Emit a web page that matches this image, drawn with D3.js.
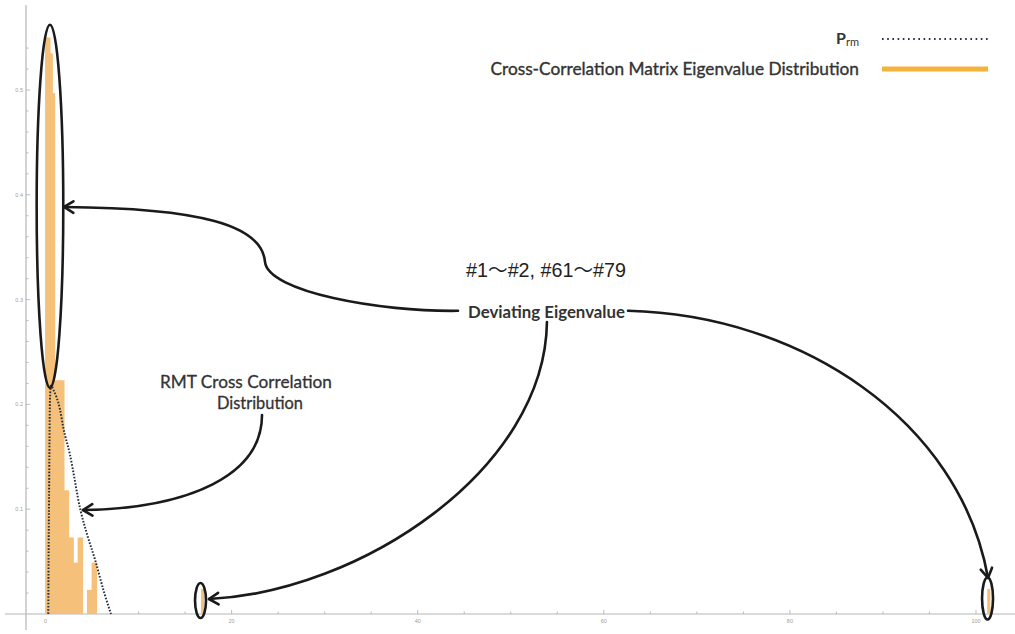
<!DOCTYPE html>
<html>
<head>
<meta charset="utf-8">
<script src="https://cdn.jsdelivr.net/npm/d3@7/dist/d3.min.js"></script>
<style>
  html, body { margin: 0; padding: 0; background: #fff; }
  svg { display: block; }
</style>
</head>
<body>
<svg id="chart" width="1015" height="634"></svg>
<script>
// Histogram of cross-correlation matrix eigenvalues (bin width 0.25)
const binStart = [0, 0.25, 0.5, 0.75, 1.0, 1.25, 1.5, 1.75, 2.0, 2.25, 2.5, 2.75,
                  3.0, 3.25, 3.5, 3.75, 4.5, 4.75, 5.0, 5.25, 16.75, 101.25];
const binHeight = [0.55, 0.55, 0.535, 0.497, 0.223, 0.223, 0.223, 0.223, 0.118, 0.118,
                   0.073, 0.073, 0.049, 0.049, 0.073, 0.073, 0.023, 0.023, 0.049, 0.049,
                   0.024, 0.024];
const binWidth = 0.25;

// RMT (Marchenko-Pastur type) eigenvalue density, P_rm
const rmtLambda  = [0.30, 0.33, 0.38, 0.43, 0.48, 0.59, 0.84, 1.56, 1.91, 2.63, 3.76, 4.5, 5.32, 6.32, 7.04];
const rmtDensity = [0, 0.052, 0.109, 0.166, 0.204, 0.218, 0.214, 0.195, 0.178, 0.152, 0.099, 0.075, 0.052, 0.02, 0];

// Axis ticks
const xTicks = [0, 20, 40, 60, 80, 100];
const yTicks = [0.1, 0.2, 0.3, 0.4, 0.5];

// Legend entries
const legendLabels = ["Cross-Correlation Matrix Eigenvalue Distribution"];

const svg = d3.select("#chart");
const W = 1015, H = 634;

const x = d3.scaleLinear().domain([0, 100]).range([45.5, 976]);
const y = d3.scaleLinear().domain([0, 0.5]).range([614, 90]);

const axisColor = "#b5b5b5";
const textColor = "#333";
const barColor = "#f5c07a";
const legendOrange = "#f4b43c";
const dotColor = "#263043";

// ---- axes ----
const axes = svg.append("g");
axes.append("line").attr("x1", 5).attr("x2", W).attr("y1", y(0)).attr("y2", y(0))
  .attr("stroke", axisColor).attr("stroke-width", 1.2);
axes.append("line").attr("x1", 26).attr("x2", 26).attr("y1", 5).attr("y2", 630)
  .attr("stroke", axisColor).attr("stroke-width", 1.2);

// x ticks: majors every 20, minors every 5
d3.range(5, 101, 5).forEach(v => {
  const major = v % 20 === 0;
  axes.append("line").attr("x1", x(v)).attr("x2", x(v))
    .attr("y1", y(0)).attr("y2", y(0) - (major ? 4 : 2.5))
    .attr("stroke", axisColor).attr("stroke-width", 0.9);
});
axes.selectAll("text.xt").data(xTicks).join("text")
  .attr("x", d => x(d)).attr("y", y(0) + 9)
  .attr("text-anchor", "middle").attr("font-size", 5.5)
  .attr("font-family", "Liberation Sans, sans-serif").attr("fill", "#a0a0a0")
  .text(d => d);

// y ticks: majors every 0.1, minors every 0.02
d3.range(1, 28).forEach(i => {
  const v = i * 0.02;
  const major = i % 5 === 0;
  axes.append("line").attr("x1", 26).attr("x2", 26 + (major ? 4 : 2.5))
    .attr("y1", y(v)).attr("y2", y(v))
    .attr("stroke", axisColor).attr("stroke-width", 0.9);
});
axes.selectAll("text.yt").data(yTicks).join("text")
  .attr("x", 23).attr("y", d => y(d) + 2)
  .attr("text-anchor", "end").attr("font-size", 5.5)
  .attr("font-family", "Liberation Sans, sans-serif").attr("fill", "#a0a0a0")
  .text(d => d3.format(".1f")(d));

// ---- histogram ----
const bins = binStart.map((s, i) => ({ x0: s, x1: s + binWidth, h: binHeight[i] }));
svg.append("g").selectAll("rect").data(bins).join("rect")
  .attr("x", d => x(d.x0) - 0.4)
  .attr("y", d => y(d.h))
  .attr("width", d => x(d.x1) - x(d.x0) + 0.8)
  .attr("height", d => y(0) - y(d.h))
  .attr("fill", barColor);

// ---- RMT density curve ----
const rmtPts = rmtLambda.map((l, i) => [l, rmtDensity[i]]);
svg.append("path")
  .datum(rmtPts)
  .attr("d", d3.line().x(d => x(d[0])).y(d => y(d[1])).curve(d3.curveMonotoneX))
  .attr("fill", "none").attr("stroke", dotColor)
  .attr("stroke-width", 2).attr("stroke-dasharray", "1.6 1.6");

// ---- annotations (positioned in data coordinates) ----
const ann = svg.append("g").attr("fill", "none").attr("stroke", "#1a1a1a")
  .attr("stroke-width", 2.6).attr("stroke-linecap", "round");

const ellipses = [
  { cx: 0.48, cy: 0.389, rx: 1.43, ry: 0.1732 },
  { cx: 16.66, cy: 0.0129, rx: 0.59, ry: 0.0167 },
  { cx: 101.24, cy: 0.0148, rx: 0.59, ry: 0.020 }
];
ellipses.forEach(e => {
  ann.append("ellipse")
    .attr("cx", x(e.cx)).attr("cy", y(e.cy))
    .attr("rx", x(e.cx + e.rx) - x(e.cx))
    .attr("ry", y(e.cy - e.ry) - y(e.cy));
});

// each arrow: cubic segments [p0, c1, c2, p1, c3, c4, p2 ...]; head drawn at the first point
const arrows = [
  [[1.99, 0.3884], [16.60, 0.3874], [23.27, 0.3712], [23.59, 0.3359], [23.91, 0.3073], [35.95, 0.2882], [44.33, 0.2893]],
  [[101.29, 0.0344], [98.28, 0.1851], [81.09, 0.2853], [62.60, 0.2893]],
  [[17.57, 0.0143], [33.80, 0.0210], [53.68, 0.1374], [53.89, 0.2786]],
  [[4.03, 0.0992], [15.53, 0.1011], [23.27, 0.1326], [23.27, 0.1899]]
];
arrows.forEach(a => {
  const p = a.map(d => [x(d[0]), y(d[1])]);
  let d = `M${p[0][0]},${p[0][1]}`;
  for (let i = 1; i + 2 < p.length; i += 3) {
    d += ` C${p[i][0]},${p[i][1]} ${p[i+1][0]},${p[i+1][1]} ${p[i+2][0]},${p[i+2][1]}`;
  }
  ann.append("path").attr("d", d);
  // open arrow head at the tip
  const tip = p[0], c = p[1];
  const ang = Math.atan2(c[1] - tip[1], c[0] - tip[0]);
  const len = 11, spread = 0.55;
  const h1 = [tip[0] + len * Math.cos(ang + spread), tip[1] + len * Math.sin(ang + spread)];
  const h2 = [tip[0] + len * Math.cos(ang - spread), tip[1] + len * Math.sin(ang - spread)];
  ann.append("path")
    .attr("d", `M${h1[0]},${h1[1]} L${tip[0]},${tip[1]} L${h2[0]},${h2[1]}`)
    .attr("stroke-linejoin", "round");
});

// ---- labels ----
function fitWidth(sel, width) {
  const w = sel.node().getComputedTextLength();
  const fs = parseFloat(sel.attr("font-size"));
  sel.attr("font-size", fs * width / w);
  return sel;
}
const labelFont = "Lato, 'Open Sans', sans-serif";

const t1 = svg.append("text").attr("x", 546).attr("y", 277)
  .attr("text-anchor", "middle").attr("font-size", 17)
  .attr("font-family", "'Liberation Sans', 'Noto Sans CJK KR', sans-serif")
  .attr("fill", "#222").text("#1～#2, #61～#79");
fitWidth(t1, 160);

const t2 = svg.append("text").attr("x", 546.5).attr("y", 318)
  .attr("text-anchor", "middle").attr("font-size", 18).attr("font-weight", 700)
  .attr("font-family", labelFont).attr("fill", textColor).text("Deviating Eigenvalue");
fitWidth(t2, 157);

const t3 = svg.append("text").attr("x", 246).attr("y", 388)
  .attr("text-anchor", "middle").attr("font-size", 16)
  .attr("font-family", labelFont).attr("fill", textColor)
  .attr("stroke", textColor).attr("stroke-width", 0.3).text("RMT Cross Correlation");
fitWidth(t3, 172);
const t4 = svg.append("text").attr("x", 260).attr("y", 409)
  .attr("text-anchor", "middle").attr("font-size", 16)
  .attr("font-family", labelFont).attr("fill", textColor)
  .attr("stroke", textColor).attr("stroke-width", 0.3).text("Distribution");
fitWidth(t4, 86);

// ---- legend ----
const lg = svg.append("g");
const pl = lg.append("text").attr("x", 859).attr("y", 44)
  .attr("text-anchor", "end").attr("font-family", labelFont).attr("fill", textColor);
pl.append("tspan").attr("font-size", 16).attr("font-weight", 700).text("P");
pl.append("tspan").attr("font-size", 11).attr("dy", 2).text("rm");
lg.append("line").attr("x1", 882).attr("x2", 988).attr("y1", 39).attr("y2", 39)
  .attr("stroke", dotColor).attr("stroke-width", 1.8).attr("stroke-dasharray", "1.6 3.6");

const ll = lg.append("text").attr("x", 859).attr("y", 75)
  .attr("text-anchor", "end").attr("font-size", 16).attr("font-weight", 400)
  .attr("font-family", labelFont).attr("fill", textColor)
  .attr("stroke", textColor).attr("stroke-width", 0.35).text(legendLabels[0]);
fitWidth(ll, 369);
lg.append("line").attr("x1", 882).attr("x2", 988).attr("y1", 69).attr("y2", 69)
  .attr("stroke", legendOrange).attr("stroke-width", 5);
</script>
</body>
</html>
